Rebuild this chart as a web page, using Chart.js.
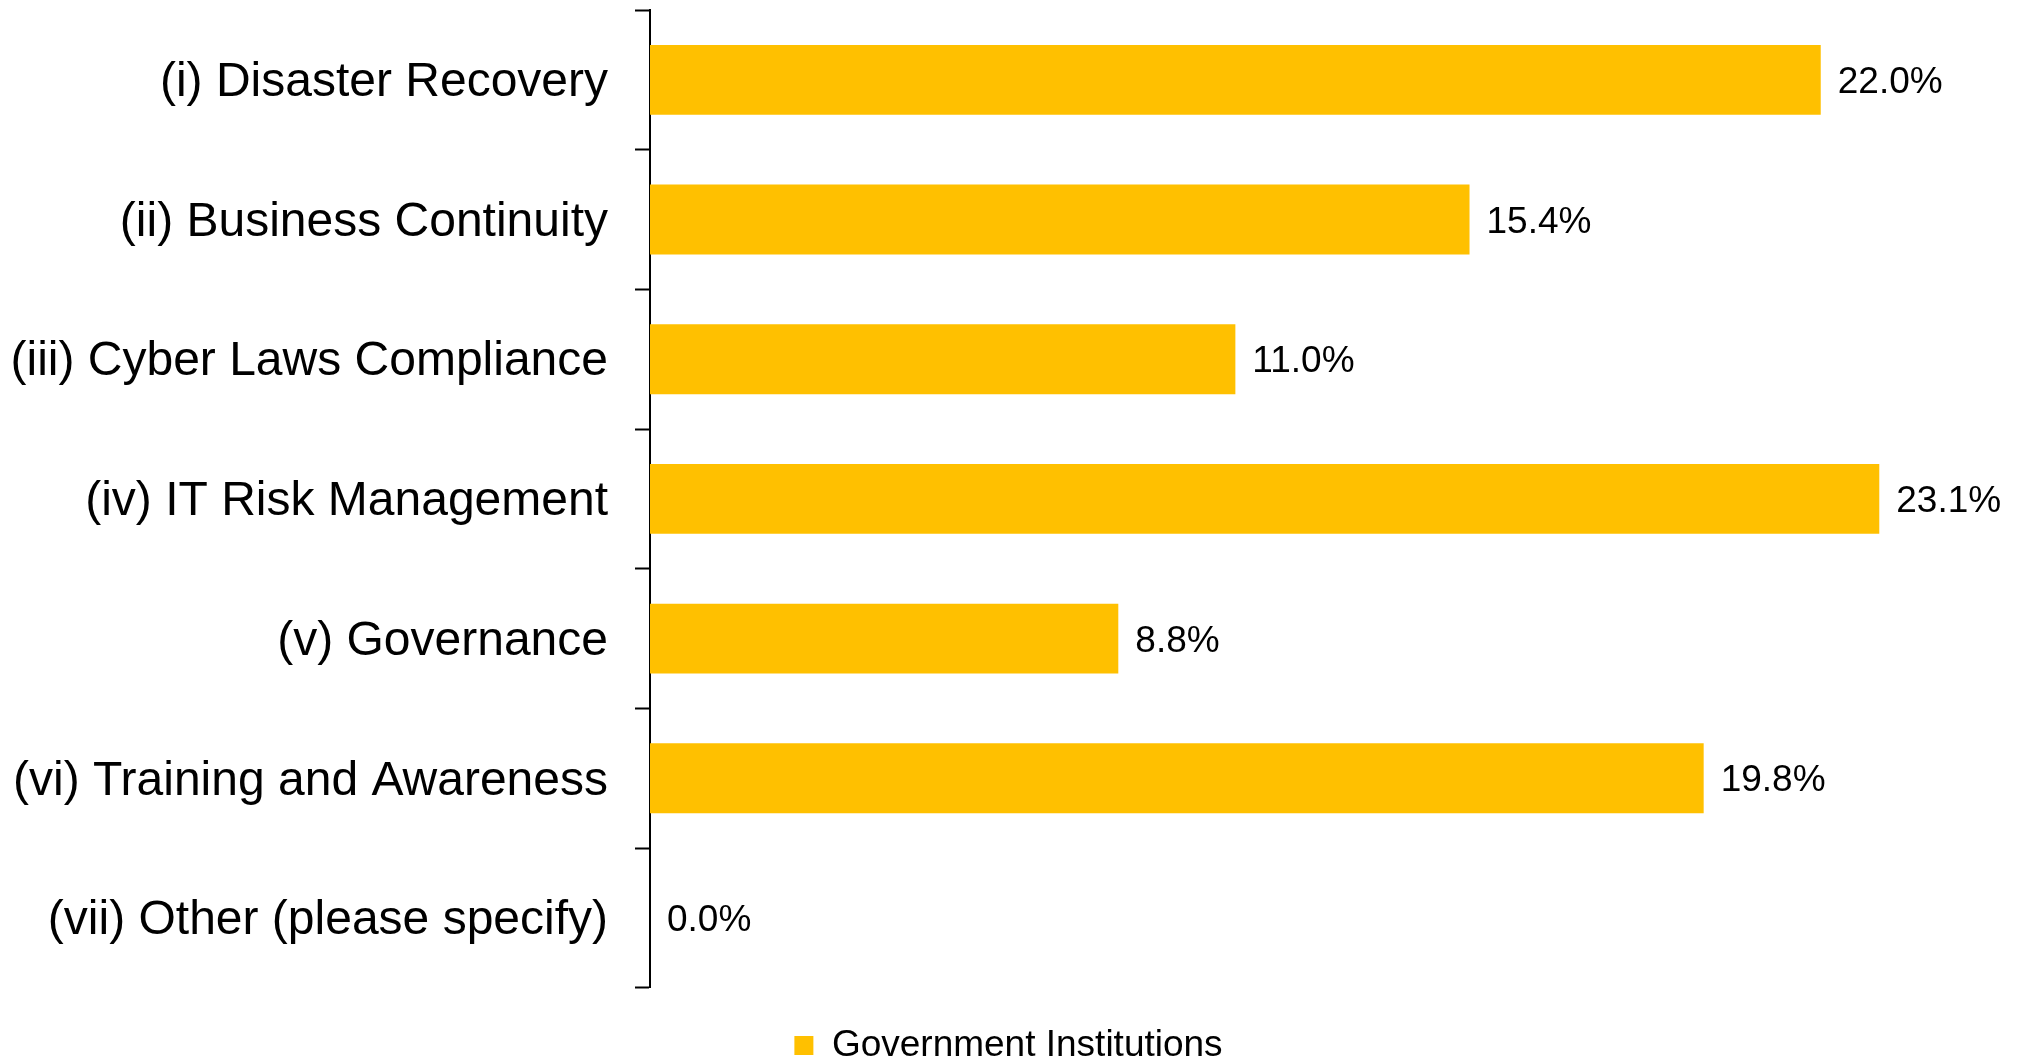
<!DOCTYPE html>
<html>
<head>
<meta charset="utf-8">
<script src="https://cdn.jsdelivr.net/npm/chart.js@4/dist/chart.umd.min.js"></script>
<style>
  html, body { margin: 0; padding: 0; background: #fff; }
  #chart-container { width: 2027px; height: 1060px; position: relative; }
</style>
</head>
<body>
<div id="chart-container"><canvas id="chart"></canvas></div>
<script>
const categories = [
  '(i) Disaster Recovery',
  '(ii) Business Continuity',
  '(iii) Cyber Laws Compliance',
  '(iv) IT Risk Management',
  '(v) Governance',
  '(vi) Training and Awareness',
  '(vii) Other (please specify)'
];
const governmentValues = [22.0, 15.4, 11.0, 23.1, 8.8, 19.8, 0.0];
const seriesName = 'Government Institutions';

const FONT = "'Liberation Sans', Arial, sans-serif";

// labels at the end of each bar
const barValueLabels = {
  id: 'barValueLabels',
  afterDatasetsDraw(chart) {
    const ctx = chart.ctx;
    const meta = chart.getDatasetMeta(0);
    ctx.save();
    ctx.font = '37px ' + FONT;
    ctx.fillStyle = '#000';
    ctx.textAlign = 'left';
    ctx.textBaseline = 'middle';
    meta.data.forEach((bar, i) => {
      const v = chart.data.datasets[0].data[i];
      ctx.fillText(v.toFixed(1) + '%', bar.x + 17, bar.y + 3);
    });
    ctx.restore();
  }
};

const chart = new Chart(document.getElementById('chart'), {
  type: 'bar',
  data: {
    labels: categories,
    datasets: [{
      label: seriesName,
      data: governmentValues,
      backgroundColor: '#FFC000',
      borderWidth: 0,
      categoryPercentage: 1,
      barPercentage: 0.5
    }]
  },
  options: {
    indexAxis: 'y',
    responsive: true,
    maintainAspectRatio: false,
    animation: false,
    layout: { padding: { left: 10, right: 20, top: 10, bottom: -14 } },
    scales: {
      x: {
        display: false,
        min: 0,
        max: 25.5
      },
      y: {
        grid: {
          drawOnChartArea: false,
          tickLength: 15,
          tickWidth: 2,
          color: '#000',
          offset: true
        },
        border: { display: true, color: '#000', width: 2 },
        ticks: {
          color: '#000',
          padding: 27,
          labelOffset: 3,
          font: { family: FONT, size: 48 }
        },
        afterFit(scale) {
          scale.width = 640;
          scale.paddingTop = 0;
          scale.paddingBottom = 0;
        }
      }
    },
    plugins: {
      legend: {
        position: 'bottom',
        title: { display: true, text: '', font: { size: 1 }, padding: { top: 28, bottom: 0 } },
        labels: {
          boxWidth: 19,
          boxHeight: 19,
          padding: 10,
          color: '#000',
          font: { family: FONT, size: 37 }
        }
      },
      tooltip: { enabled: false }
    }
  },
  plugins: [barValueLabels]
});
</script>
</body>
</html>
